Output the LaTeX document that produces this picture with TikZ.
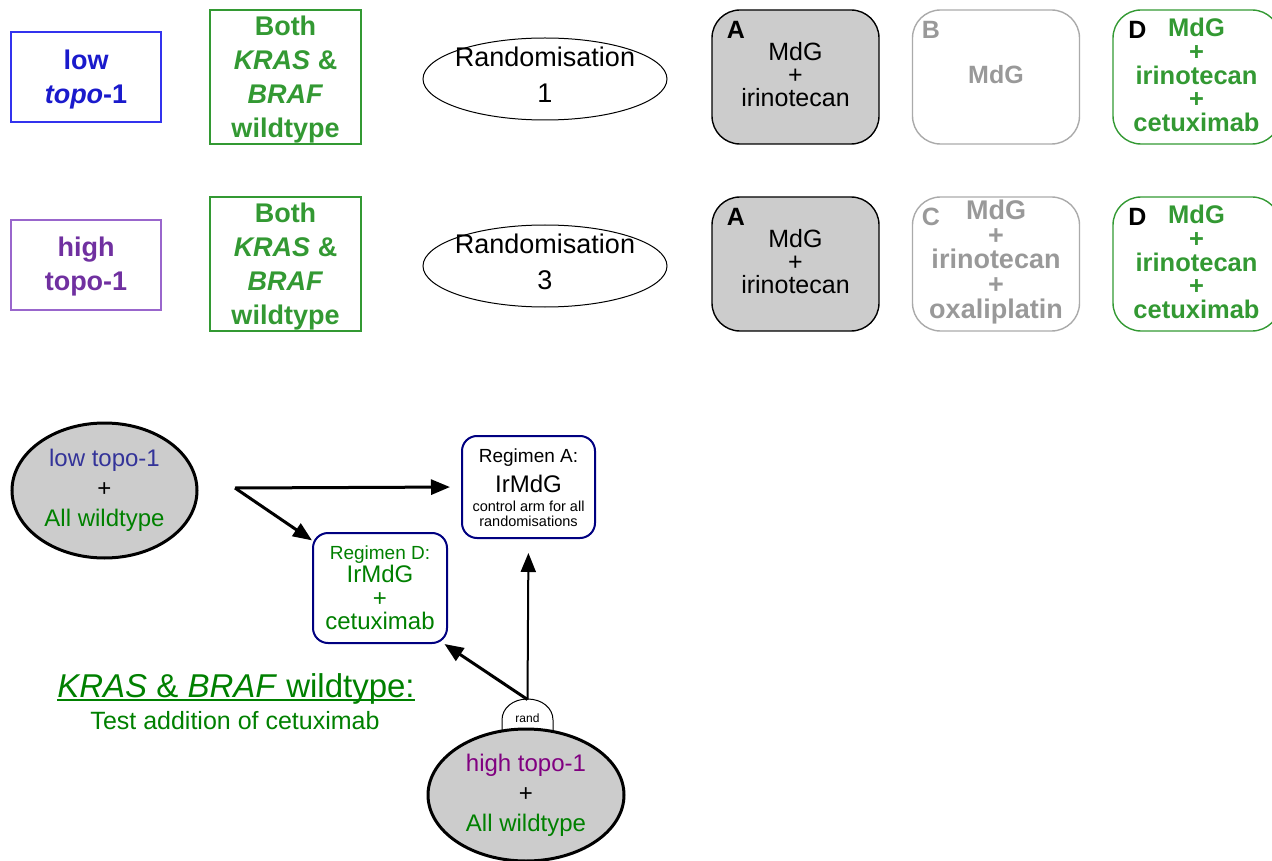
\documentclass[tikz,border=0pt]{standalone}
\usepackage{fontspec}
\setmainfont{Liberation Sans}
\usetikzlibrary{shapes.geometric,arrows.meta,calc}

\definecolor{lowblue}{HTML}{1A1ACC}
\definecolor{lowedge}{HTML}{3333EE}
\definecolor{hipurple}{HTML}{7030A0}
\definecolor{hiedge}{HTML}{9966CC}
\definecolor{wtgreen}{HTML}{339933}
\definecolor{fillgray}{HTML}{CCCCCC}
\definecolor{armgray}{HTML}{999999}
\definecolor{armedge}{HTML}{AAAAAA}
\definecolor{navyline}{HTML}{000080}
\definecolor{dkgreen}{HTML}{008000}
\definecolor{slateblue}{HTML}{333399}
\definecolor{plum}{HTML}{800080}

\newcommand\fsz[2]{\fontsize{#1}{#2}\selectfont}

\tikzset{
  tagbox/.style={draw, line width=1.2pt, minimum width=150pt, minimum height=90pt,
    inner sep=0pt, align=center, font=\fsz{27}{34}\bfseries},
  mutbox/.style={draw=wtgreen, text=wtgreen, line width=1.2pt, minimum width=151pt,
    minimum height=134pt, inner sep=0pt, align=center, font=\fsz{27}{34}\bfseries},
  randell/.style={draw, ellipse, line width=1pt, minimum width=244pt,
    minimum height=82pt, inner sep=0pt},
  randtxt/.style={align=center, font=\fsz{27}{36}, inner sep=0pt},
  armbox/.style={rounded corners=28pt, line width=1.4pt, minimum width=167pt,
    minimum height=134pt, inner sep=0pt},
  armtxt/.style={align=center, inner sep=0pt},
  armletter/.style={font=\fsz{25}{25}\bfseries, inner sep=0pt},
  cohort/.style={draw, ellipse, fill=fillgray, line width=3pt, inner sep=0pt,
    align=center, font=\fsz{24}{30}},
  regimen/.style={draw=navyline, fill=white, rounded corners=15pt, line width=2pt,
    inner sep=0pt},
  regline/.style={inner sep=0pt, anchor=base},
  arr/.style={-{Triangle[length=19pt,width=15pt]}, line width=3pt},
}

\begin{document}
\begin{tikzpicture}[x=1pt,y=-1pt]
\useasboundingbox (0,0) rectangle (1272,861);

% ---------- randomisation 1 (low topo-1) ----------
\node[tagbox, draw=lowedge] (low1) at (86,77) {};
\node[align=center, inner sep=0pt, font=\fsz{27}{34}\bfseries, text=lowblue] (low1t) at (86,80)
  {low\\\textit{topo}-1};
\node[mutbox] (wt1) at (285.5,77) {};
\node[align=center, inner sep=0pt, font=\fsz{27}{34}\bfseries, text=wtgreen] (wt1t) at (285.5,80)
  {Both\\\textit{KRAS} \&\\\textit{BRAF}\\wildtype};
\node[randell] (r1) at (545,79) {};
\node[randtxt] (r1t) at (545,75) {Randomisation\\1};

\node[armbox, draw=black, fill=fillgray] (a1) at (795.5,77) {};
\node[armletter] (a1l) at (736,30) {A};
\node[armtxt, font=\fsz{25}{23}] (a1t) at (795.5,75) {MdG\\+\\irinotecan};

\node[armbox, draw=armedge] (b1) at (996,77) {};
\node[armletter, text=armgray] (b1l) at (931,30) {B};
\node[armtxt, text=armgray, font=\fsz{25}{25}\bfseries] (b1t) at (996,75) {MdG};

\node[armbox, draw=wtgreen] (d1) at (1196.5,77) {};
\node[armletter] (d1l) at (1137.5,30) {D};
\node[armtxt, text=wtgreen, font=\fsz{25.5}{23.8}\bfseries] (d1t) at (1196.5,75)
  {MdG\\+\\irinotecan\\+\\cetuximab};

% ---------- randomisation 3 (high topo-1) ----------
\node[tagbox, draw=hiedge] (high3) at (86,265) {};
\node[align=center, inner sep=0pt, font=\fsz{27}{34}\bfseries, text=hipurple] (high3t) at (86,267)
  {high\\topo-1};
\node[mutbox] (wt3) at (285.5,264) {};
\node[align=center, inner sep=0pt, font=\fsz{27}{34}\bfseries, text=wtgreen] (wt3t) at (285.5,267)
  {Both\\\textit{KRAS} \&\\\textit{BRAF}\\wildtype};
\node[randell] (r3) at (545,266) {};
\node[randtxt] (r3t) at (545,262) {Randomisation\\3};

\node[armbox, draw=black, fill=fillgray] (a3) at (795.5,264) {};
\node[armletter] (a3l) at (736,217) {A};
\node[armtxt, font=\fsz{25}{23}] (a3t) at (795.5,262) {MdG\\+\\irinotecan};

\node[armbox, draw=armedge] (c3) at (996,264) {};
\node[armletter, text=armgray] (c3l) at (931,217) {C};
\node[armtxt, text=armgray, font=\fsz{27}{24.6}\bfseries] (c3t) at (996,262)
  {MdG\\+\\irinotecan\\+\\oxaliplatin};

\node[armbox, draw=wtgreen] (d3) at (1196.5,264) {};
\node[armletter] (d3l) at (1137.5,217) {D};
\node[armtxt, text=wtgreen, font=\fsz{25.5}{23.8}\bfseries] (d3t) at (1196.5,262)
  {MdG\\+\\irinotecan\\+\\cetuximab};

% ---------- KRAS & BRAF wildtype scheme ----------
\node[cohort, minimum width=185pt, minimum height=135pt] (lowc) at (104.5,490.5)
  {\textcolor{slateblue}{low topo-1}\\+\\\textcolor{dkgreen}{All wildtype}};

\node[regimen, minimum width=133pt, minimum height=102pt] (rA) at (528.5,487) {};
\node[regline, font=\fsz{19}{19}] (rA1) at (528.5,462) {Regimen A:};
\node[regline, font=\fsz{24}{24}] (rA2) at (528.5,492) {IrMdG};
\node[regline, font=\fsz{14.5}{14.5}] (rA3) at (528.5,511) {control arm for all};
\node[regline, font=\fsz{14.5}{14.5}] (rA4) at (528.5,526) {randomisations};

\node[regimen, minimum width=134pt, minimum height=110pt] (rD) at (380,588) {};
\node[regline, font=\fsz{19}{19}, text=dkgreen] (rD1) at (380,559) {Regimen D:};
\node[regline, font=\fsz{24}{24}, text=dkgreen] (rD2) at (380,582) {IrMdG};
\node[regline, font=\fsz{24}{24}, text=dkgreen] (rD3) at (380,606) {+};
\node[regline, font=\fsz{24}{24}, text=dkgreen] (rD4) at (380,629) {cetuximab};

% split point of the low topo-1 arrows
\coordinate (split) at (235,488);
\draw[arr] (split) -- (rA.west) [shorten >=11pt];
\draw[arr] (split) -- (rD.145);

% rand dome on top of the high topo-1 cohort
\draw[fill=white, line width=1pt] (502,737) -- (502,720)
  .. controls (502,708) and (513,699) .. (527.5,699)
  .. controls (542,699) and (553,708) .. (553,720) -- (553,737);
\node[inner sep=0pt, font=\fsz{12}{12}] (rand) at (527.5,718) {rand};
\coordinate (randtop) at (527.5,699.5);

\node[cohort, minimum width=196pt, minimum height=132pt] (highc) at (526,795)
  {\textcolor{plum}{high topo-1}\\+\\\textcolor{dkgreen}{All wildtype}};

\draw[arr, line width=2pt] (randtop) -- (rA.south) [shorten >=14pt];
\draw[arr] (randtop) -- (rD.-41);

% caption
\node[regline, text=dkgreen, font=\fsz{33}{33}] (kb) at (236,697)
  {\textit{KRAS} \& \textit{BRAF} wildtype:};
\draw[dkgreen, line width=1.8pt] ($(kb.base west)+(0,3)$) -- ($(kb.base east)+(0,3)$);
\node[regline, text=dkgreen, font=\fsz{25}{25}] (test) at (235,729)
  {Test addition of cetuximab};
\end{tikzpicture}
\end{document}
